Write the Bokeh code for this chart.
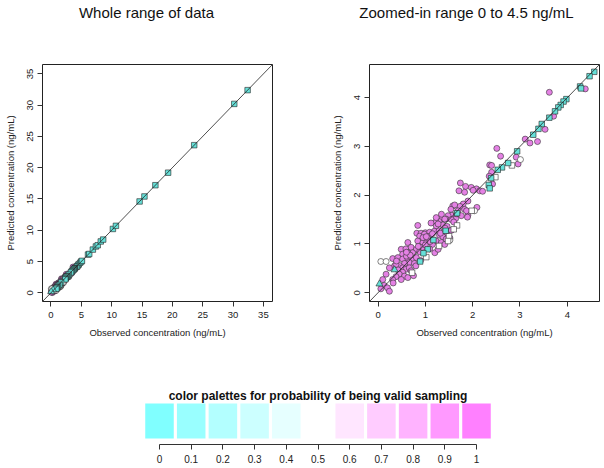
from bokeh.plotting import figure
from bokeh.models import Range1d, Slope, FixedTicker, PrintfTickFormatter
from bokeh.layouts import column, row
from bokeh.embed import file_html
from bokeh.resources import INLINE
from bokeh.core.properties import value

# ---------------- data (observed, predicted) ----------------
# high-probability samples (magenta circles)
mag_obs = [3.62, 4.38, 3.71, 3.53, 3.11, 3.21, 3.37, 2.51, 2.59, 2.36,
           2.40, 2.92, 2.96, 2.40, 2.35, 2.42, 1.74, 1.85, 1.71, 1.83,
           1.97, 2.08, 2.15, 2.21, 2.01, 1.90, 1.80, 1.73, 1.58, 1.69,
           1.83, 2.09, 1.90, 1.62, 1.87, 1.89, 1.76, 1.55, 1.48, 1.44,
           1.36, 1.29, 1.22, 1.64, 1.41, 1.34, 1.23, 1.54, 1.55, 0.84,
           1.23, 1.37, 1.12, 1.27, 1.46, 0.82, 0.91, 1.00, 1.09, 1.19,
           1.29, 0.88, 1.09, 1.30, 1.37, 0.98, 1.15, 0.63, 0.84, 0.95,
           1.03, 1.23, 1.34, 1.41, 1.15, 1.44, 1.52, 0.49, 0.59, 0.70,
           0.81, 0.88, 0.73, 0.63, 0.52, 1.09, 1.20, 1.27, 0.31, 0.42,
           0.52, 0.63, 0.73, 0.81, 0.66, 0.77, 0.56, 0.35, 0.45, 0.52,
           0.59, 0.42, 0.24, 0.66, 0.52, 0.45, 0.56, 0.63, 0.38, 0.31,
           0.49, 0.17, 0.10, 0.13, 0.20, 0.24, 0.06, 0.32, 0.38, 0.60,
           0.68, 0.94, 1.00, 0.95, 1.05, 0.60, 0.70, 0.75, 0.90, 1.46,
           1.55, 1.42, 1.60, 0.39, 0.80, 1.10, 0.85, 1.02, 1.32, 1.66]
mag_pred = [4.11, 4.18, 3.62, 3.35, 3.15, 3.07, 3.10, 2.96, 2.80, 2.62,
            2.61, 2.78, 2.64, 2.47, 2.39, 2.23, 2.25, 2.18, 2.09, 2.06,
            2.16, 2.13, 2.09, 2.08, 2.10, 1.88, 1.82, 1.77, 1.78, 1.68,
            1.71, 1.75, 1.59, 1.80, 1.68, 1.55, 1.58, 1.59, 1.58, 1.51,
            1.52, 1.46, 1.45, 1.52, 1.51, 1.61, 1.54, 1.71, 1.50, 1.38,
            1.37, 1.39, 1.43, 1.41, 1.36, 1.22, 1.22, 1.23, 1.24, 1.26,
            1.27, 1.16, 1.16, 1.18, 1.15, 1.20, 1.21, 1.03, 1.06, 1.03,
            1.04, 1.06, 1.03, 0.99, 0.99, 1.10, 1.12, 0.89, 0.90, 0.93,
            0.89, 0.84, 0.82, 0.82, 0.79, 0.90, 0.82, 0.89, 0.70, 0.72,
            0.69, 0.70, 0.67, 0.72, 0.62, 0.60, 0.60, 0.55, 0.56, 0.51,
            0.48, 0.47, 0.51, 0.51, 0.42, 0.38, 0.34, 0.31, 0.33, 0.27,
            0.27, 0.38, 0.27, 0.15, 0.10, 0.03, 0.08, 0.20, 0.58, 0.75,
            0.77, 0.93, 0.98, 1.13, 1.12, 0.83, 0.45, 0.35, 0.66, 1.23,
            1.28, 1.32, 1.45, 0.65, 0.55, 1.05, 0.95, 1.15, 1.22, 1.62]

# mid-probability samples (white circles)
wc_obs = [0.06, 0.17, 3.01, 2.04, 1.52]
wc_pred = [0.64, 0.64, 2.73, 1.68, 1.08]

# mid-probability samples (white squares)
ws_obs = [1.67, 1.60, 1.50, 1.48, 1.29, 0.72, 1.98, 2.48, 2.83, 1.02]
ws_pred = [1.38, 1.30, 1.16, 1.06, 0.96, 0.41, 1.68, 2.37, 2.61, 0.73]

# low-probability samples (cyan squares)
cs_obs = [4.57, 4.47, 4.27, 4.29, 3.98, 3.92, 3.86, 3.81, 3.74, 3.62,
          3.46, 3.39, 3.28, 2.94, 2.75, 2.62, 2.53, 2.39, 2.34, 2.36,
          1.67, 1.43, 1.17, 1.05, 0.96, 0.89,
          4.8, 5.0, 5.1, 6.1, 6.3, 6.9, 7.4, 7.7, 8.2, 8.6,
          10.2, 10.7, 14.6, 15.4, 17.2, 19.3, 23.6, 30.2, 32.4]
cs_pred = [4.53, 4.44, 4.23, 4.19, 3.97, 3.92, 3.85, 3.80, 3.72, 3.59,
           3.46, 3.36, 3.24, 2.90, 2.66, 2.57, 2.52, 2.35, 2.21, 2.14,
           1.63, 1.27, 1.08, 0.89, 0.81, 0.64,
           4.8, 5.0, 5.1, 6.1, 6.2, 6.9, 7.4, 7.6, 8.2, 8.5,
           10.2, 10.7, 14.6, 15.4, 17.2, 19.2, 23.6, 30.2, 32.4]

# low-probability samples (cyan triangles)
ct_obs = [0.35, 0.03]
ct_pred = [0.47, 0.18]

# palette legend
prob_ticks = [0, 0.1, 0.2, 0.3, 0.4, 0.5, 0.6, 0.7, 0.8, 0.9, 1]

whole_ticks = [0, 5, 10, 15, 20, 25, 30, 35]
zoom_ticks = [0, 1, 2, 3, 4]

panel_titles = ["Whole range of data", "Zoomed-in range 0 to 4.5 ng/mL"]

FONT = "Liberation Sans"
MAG = "#E481E4"
CYAN = "#66E0D8"


def pal(v):
    if v <= 0.5:
        t = 1 - 2 * v
        r, g, b = 255 - 127 * t, 255, 255
    else:
        t = 2 * v - 1
        r, g, b = 255, 255 - 127 * t, 255
    return "#%02x%02x%02x" % (int(round(r)), int(round(g)), int(round(b)))


# ---------------- title strip ----------------
pt = figure(width=602, height=30, x_range=Range1d(0, 602), y_range=Range1d(0, 30),
            x_axis_location=None, y_axis_location=None,
            min_border_left=0, min_border_right=0, min_border_top=0, min_border_bottom=0,
            output_backend="svg", toolbar_location=None)
pt.xgrid.visible = False
pt.ygrid.visible = False
pt.outline_line_color = None
pt.text(x=[146, 466], y=[18, 18], text=panel_titles,
        text_font=value(FONT), text_font_size=value("15px"),
        text_align="center", text_baseline="middle", text_color="#111111")


def make_panel(width, border_left, border_right, rng, ticks):
    p = figure(width=width, height=313, x_range=Range1d(*rng), y_range=Range1d(*rng),
               min_border_left=border_left, min_border_right=border_right,
               min_border_top=34, min_border_bottom=42,
               output_backend="svg", toolbar_location=None)
    p.xgrid.visible = False
    p.ygrid.visible = False
    p.outline_line_color = "#222222"
    p.outline_line_width = 1
    p.outline_line_alpha = 1
    for ax in (p.xaxis[0], p.yaxis[0]):
        ax.ticker = FixedTicker(ticks=ticks)
        ax.axis_line_color = None
        ax.major_tick_in = 0
        ax.major_tick_out = 5
        ax.major_tick_line_color = "#333333"
        ax.minor_tick_line_color = None
        ax.major_label_text_font = FONT
        ax.major_label_text_font_size = "9.5px"
        ax.major_label_text_color = "#222222"
        ax.axis_label_text_font = FONT
        ax.axis_label_text_font_size = "9.5px"
        ax.axis_label_text_font_style = "normal"
        ax.axis_label_text_color = "#222222"
    p.xaxis.axis_label = "Observed concentration (ng/mL)"
    p.yaxis.axis_label = "Predicted concentration (ng/mL)"
    p.yaxis.major_label_orientation = "vertical"
    p.xaxis.major_label_standoff = 5
    p.yaxis.major_label_standoff = 4
    p.xaxis.axis_label_standoff = 6
    p.yaxis.axis_label_standoff = 9

    p.add_layout(Slope(gradient=1, y_intercept=0, line_color="#222222", line_width=0.8))

    p.scatter(mag_obs, mag_pred, marker="circle", size=6, fill_color=MAG,
              line_color="#333333", line_width=0.6)
    p.scatter(wc_obs, wc_pred, marker="circle", size=6, fill_color="white",
              line_color="#333333", line_width=0.6)
    p.scatter(ws_obs, ws_pred, marker="square", size=5.5, fill_color="white",
              line_color="#333333", line_width=0.6)
    p.scatter(cs_obs, cs_pred, marker="square", size=5.5, fill_color=CYAN,
              line_color="#222222", line_width=0.6)
    p.scatter(ct_obs, ct_pred, marker="triangle", size=7, fill_color=CYAN,
              line_color="#222222", line_width=0.6)
    return p


p1 = make_panel(302, 42, 30, (-1.4, 36.5), whole_ticks)
p2 = make_panel(300, 67, 3, (-0.18, 4.68), zoom_ticks)

# ---------------- palette legend ----------------
p3 = figure(width=602, height=123, x_range=Range1d(-0.50158, 1.39747),
            y_range=Range1d(-0.1714, 1.5714), y_axis_location=None,
            min_border_left=0, min_border_right=0, min_border_top=40, min_border_bottom=22,
            output_backend="svg", toolbar_location=None)
p3.xgrid.visible = False
p3.ygrid.visible = False
p3.outline_line_color = None
colors = [pal(v) for v in prob_ticks]
p3.quad(left=[v - 0.045 for v in prob_ticks], right=[v + 0.045 for v in prob_ticks],
        bottom=0, top=1, fill_color=colors, line_color=None)
p3.text(x=[0.5], y=[1.2], text=["color palettes for probability of being valid sampling"],
        text_font=value(FONT), text_font_style="bold", text_font_size=value("12px"),
        text_align="center", text_baseline="middle", text_color="#111111")
ax = p3.xaxis[0]
ax.bounds = (0, 1)
ax.ticker = FixedTicker(ticks=prob_ticks)
ax.formatter = PrintfTickFormatter(format="%g")
ax.axis_line_color = "#333333"
ax.major_tick_in = 0
ax.major_tick_out = 5
ax.major_tick_line_color = "#333333"
ax.minor_tick_line_color = None
ax.major_label_standoff = 5
ax.major_label_text_font = FONT
ax.major_label_text_font_size = "10px"
ax.major_label_text_color = "#222222"

layout = column(pt, row(p1, p2), p3)
open("out.html", "w").write(file_html(layout, INLINE))
